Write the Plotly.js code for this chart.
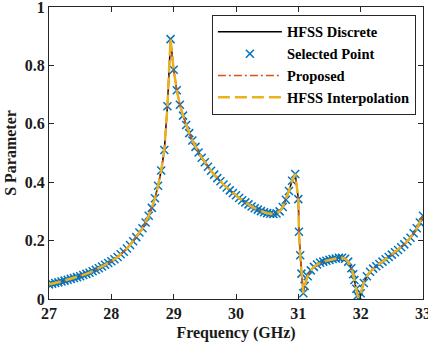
<!DOCTYPE html>
<html>
<head>
<meta charset="utf-8">
<script src="https://cdn.plot.ly/plotly-3.0.1.min.js"></script>
<style>html,body{margin:0;padding:0;background:#fff;}#chart{width:428px;height:346px;}</style>
</head>
<body>
<div id="chart"></div>
<script>
// Frequency samples (GHz)
const freq = [
  27.00,27.05,27.10,27.15,27.20,27.25,27.30,27.35,27.40,27.45,
  27.50,27.55,27.60,27.65,27.70,27.75,27.80,27.85,27.90,27.95,
  28.00,28.05,28.10,28.15,28.20,28.25,28.30,28.35,28.40,28.45,
  28.50,28.55,28.60,28.65,28.70,28.75,28.80,28.85,28.90,28.95,
  29.00,29.05,29.10,29.15,29.20,29.25,29.30,29.35,29.40,29.45,
  29.50,29.55,29.60,29.65,29.70,29.75,29.80,29.85,29.90,29.95,
  30.00,30.05,30.10,30.15,30.20,30.25,30.30,30.35,30.40,30.45,
  30.50,30.55,30.60,30.65,30.70,30.75,30.80,30.85,30.90,30.95,
  31.00,31.01,31.03,31.05,31.08,31.10,31.15,31.20,31.25,31.30,
  31.35,31.40,31.45,31.50,31.55,31.60,31.65,31.70,31.75,31.80,
  31.85,31.88,31.90,31.93,31.95,31.97,32.00,32.05,32.10,32.15,
  32.20,32.25,32.30,32.35,32.40,32.45,32.50,32.55,32.60,32.65,
  32.70,32.75,32.80,32.85,32.90,32.95,33.00
];
// S parameter magnitude at each sample
const sParam = [
  0.050,0.052,0.055,0.057,0.060,0.063,0.066,0.069,0.072,0.075,
  0.078,0.082,0.086,0.090,0.095,0.100,0.105,0.111,0.117,0.123,
  0.129,0.136,0.144,0.153,0.162,0.173,0.185,0.198,0.212,0.228,
  0.242,0.262,0.285,0.312,0.345,0.388,0.440,0.510,0.660,0.890,
  0.785,0.715,0.665,0.628,0.596,0.568,0.543,0.521,0.502,0.484,
  0.468,0.453,0.439,0.426,0.414,0.403,0.392,0.382,0.372,0.363,
  0.355,0.346,0.338,0.331,0.324,0.317,0.311,0.306,0.301,0.297,
  0.294,0.292,0.291,0.293,0.300,0.315,0.340,0.370,0.405,0.428,
  0.342,0.230,0.150,0.087,0.020,0.045,0.078,0.098,0.110,0.118,
  0.124,0.128,0.131,0.134,0.137,0.139,0.141,0.141,0.138,0.128,
  0.105,0.085,0.065,0.035,0.012,0.005,0.020,0.055,0.078,0.093,
  0.104,0.112,0.120,0.128,0.136,0.144,0.152,0.160,0.168,0.177,
  0.187,0.198,0.210,0.225,0.242,0.262,0.285
];
const seriesNames = ['HFSS Discrete','Selected Point','Proposed','HFSS Interpolation'];
const xTicks = [27,28,29,30,31,32,33];
const yTicks = [0,0.2,0.4,0.6,0.8,1];
const yTickText = ['0','0.2','0.4','0.6','0.8','1'];

const traces = [
  {x: freq, y: sParam, name: seriesNames[0], mode: 'lines', type: 'scatter',
   line: {color: '#000000', width: 1.5}},
  {x: freq, y: sParam, name: seriesNames[1], mode: 'markers', type: 'scatter',
   marker: {symbol: 'x-thin', size: 8, line: {color: '#0072BD', width: 1.5}, color: '#0072BD'}},
  {x: freq, y: sParam, name: seriesNames[2], mode: 'lines', type: 'scatter',
   line: {color: '#D95319', width: 1.5, dash: '8px,3px,2px,3px'}},
  {x: freq, y: sParam, name: seriesNames[3], mode: 'lines', type: 'scatter',
   line: {color: '#EDB120', width: 2.5, dash: '12px,5px'}}
];

const fam = '"Liberation Serif", "Times New Roman", serif';
const txtColor = '#1a1a1a';

const layout = {
  width: 428, height: 346,
  margin: {l: 49, r: 5, t: 7, b: 47, pad: 0},
  paper_bgcolor: '#ffffff', plot_bgcolor: '#ffffff',
  font: {family: fam, size: 16, color: txtColor, weight: 'bold'},
  showlegend: true,
  legend: {
    x: 0.981, y: 0.973, xanchor: 'right', yanchor: 'top',
    bgcolor: '#ffffff', bordercolor: '#262626', borderwidth: 1,
    itemwidth: 64,
    font: {family: fam, size: 14.5, color: '#000000', weight: 'bold'},
    tracegroupgap: 0
  },
  xaxis: {
    range: [27, 33], tickvals: xTicks, ticktext: xTicks.map(String),
    ticks: 'inside', ticklen: 5, tickcolor: '#262626', tickwidth: 1,
    showline: true, linecolor: '#262626', linewidth: 1, mirror: 'ticks',
    showgrid: false, zeroline: false, ticklabeloverflow: 'allow',
    tickfont: {family: fam, size: 16, color: txtColor, weight: 'bold'},
    title: {text: 'Frequency (GHz)', standoff: 5, font: {family: fam, size: 16, color: txtColor, weight: 'bold'}}
  },
  yaxis: {
    range: [0, 1], tickvals: yTicks, ticktext: yTickText,
    ticks: 'inside', ticklen: 5, tickcolor: '#262626', tickwidth: 1,
    showline: true, linecolor: '#262626', linewidth: 1, mirror: 'ticks',
    showgrid: false, zeroline: false, ticklabeloverflow: 'allow',
    tickfont: {family: fam, size: 16, color: txtColor, weight: 'bold'},
    title: {text: 'S Parameter', standoff: 4, font: {family: fam, size: 16, color: txtColor, weight: 'bold'}}
  }
};

Plotly.newPlot('chart', traces, layout, {displayModeBar: false, staticPlot: true});
</script>
</body>
</html>
